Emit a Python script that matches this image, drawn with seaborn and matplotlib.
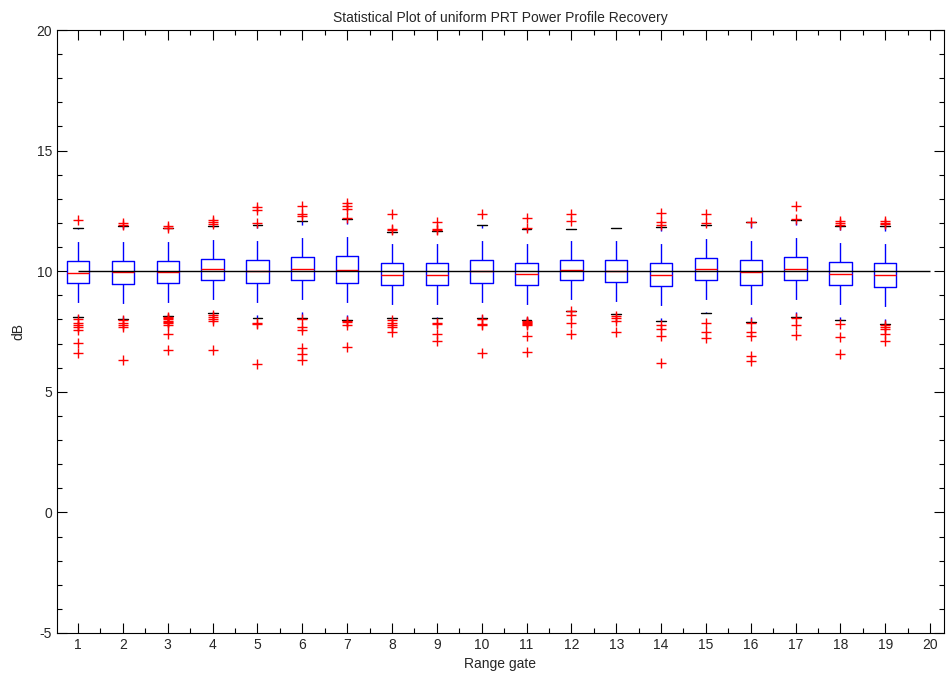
import numpy as np
import pandas as pd
import matplotlib
matplotlib.use("Agg")
import matplotlib.pyplot as plt
import seaborn as sns
from matplotlib.ticker import MultipleLocator

# ---------------- data ----------------
gates = list(range(1, 20))
whisker_low = [8.12, 8.01, 8.16, 8.27, 8.08, 8.08, 7.97, 8.08, 8.08, 8.08,
               7.97, 8.36, 8.22, 7.93, 8.26, 7.91, 8.11, 7.97, 7.83]
q1 = [9.52, 9.46, 9.52, 9.63, 9.53, 9.63, 9.52, 9.43, 9.43, 9.52,
      9.43, 9.63, 9.57, 9.38, 9.63, 9.43, 9.63, 9.43, 9.35]
median = [9.94, 9.96, 9.97, 10.08, 10.00, 10.08, 10.04, 9.85, 9.85, 10.00,
          9.90, 10.04, 9.99, 9.85, 10.08, 9.96, 10.08, 9.90, 9.85]
q3 = [10.43, 10.43, 10.43, 10.51, 10.46, 10.59, 10.61, 10.32, 10.32, 10.46,
      10.36, 10.46, 10.46, 10.36, 10.54, 10.46, 10.59, 10.40, 10.36]
whisker_high = [11.81, 11.88, 11.78, 11.86, 11.92, 12.09, 12.15, 11.64, 11.67, 11.91,
                11.77, 11.75, 11.81, 11.84, 11.92, 12.02, 12.11, 11.86, 11.86]
outliers_high = [
    [12.13],
    [11.99, 11.92],
    [11.88, 11.80],
    [12.11, 12.02, 11.95],
    [12.65, 12.52, 11.98],
    [12.71, 12.36, 12.29],
    [12.83, 12.70, 12.57, 12.20],
    [12.36, 11.74, 11.70],
    [12.02, 11.77, 11.72],
    [12.39],
    [12.22, 11.81],
    [12.36, 12.09],
    [],
    [12.43, 12.02, 11.92],
    [12.39, 11.98],
    [12.04],
    [12.71, 12.15],
    [12.09, 12.00, 11.92],
    [12.09, 12.00, 11.95],
]
outliers_low = [
    [8.01, 7.87, 7.78, 7.67, 7.56, 7.04, 6.59],
    [7.97, 7.87, 7.78, 7.67, 6.31],
    [8.11, 8.06, 8.00, 7.95, 7.90, 7.85, 7.78, 7.39, 6.73],
    [8.19, 8.11, 8.02, 7.94, 6.74],
    [7.87, 7.82, 6.17],
    [8.02, 7.67, 7.58, 6.82, 6.55, 6.30],
    [7.93, 7.88, 7.75, 6.86],
    [7.97, 7.87, 7.78, 7.67, 7.50],
    [7.87, 7.80, 7.41, 7.11],
    [8.00, 7.83, 7.78, 6.59],
    [7.94, 7.90, 7.85, 7.80, 7.75, 7.33, 6.64],
    [8.33, 8.19, 7.87, 7.39],
    [8.15, 8.05, 7.94, 7.50],
    [7.76, 7.60, 7.32, 6.21],
    [7.87, 7.46, 7.25],
    [7.87, 7.50, 7.32, 6.49, 6.29],
    [8.05, 7.76, 7.36],
    [7.80, 7.29, 6.56],
    [7.78, 7.69, 7.60, 7.39, 7.09],
]
reference_db = 10.0
reference_span = [1, 20]
x_ticks = list(range(1, 21))
y_ticks = [-5, 0, 5, 10, 15, 20]

title = "Statistical Plot of uniform PRT Power Profile Recovery"
xlabel = "Range gate"
ylabel = "dB"

# ---------------- build tables ----------------
# a 7-point sample per gate whose quartiles / extremes equal the read values
box_rows = []
for g, lo, a, m, b, hi in zip(gates, whisker_low, q1, median, q3, whisker_high):
    for v in (lo, a, a, m, b, b, hi):
        box_rows.append({"gate": g, "dB": v})
box_df = pd.DataFrame(box_rows)

out_rows = []
for g, hs, ls in zip(gates, outliers_high, outliers_low):
    for v in list(hs) + list(ls):
        out_rows.append({"gate": g, "dB": v})
out_df = pd.DataFrame(out_rows)

# ---------------- style ----------------
sns.set_style("white")
plt.rcParams["font.family"] = ["Liberation Sans Narrow", "Liberation Sans", "DejaVu Sans"]
plt.rcParams["font.size"] = 10

fig = plt.figure(figsize=(9.48, 6.81), dpi=100)
ax = fig.add_axes([57 / 948, 1 - 633 / 681, (944 - 57) / 948, (633 - 30) / 681])

sns.boxplot(
    data=box_df, x="gate", y="dB", native_scale=True, width=0.5,
    whis=(0, 100), showfliers=False, fill=False, ax=ax,
    linewidth=1.0,
    boxprops=dict(color="blue", linewidth=1.0),
    medianprops=dict(color="red", linewidth=1.0),
    whiskerprops=dict(color="blue", linewidth=1.0, linestyle=(0, (14, 9))),
    capprops=dict(color="black", linewidth=1.0),
    capwidths=0.22,
)

sns.scatterplot(
    data=out_df, x="gate", y="dB", marker="+", color="red",
    s=55, linewidth=1.0, ax=ax, legend=False, zorder=3,
)

ax.hlines(reference_db, reference_span[0], reference_span[1],
          color="black", linewidth=1.0, zorder=4)

ax.set_xlim(0.53, 20.31)
ax.set_ylim(-5, 20)
ax.set_xticks(x_ticks)
ax.set_xticklabels([str(t) for t in x_ticks])
ax.set_yticks(y_ticks)
ax.set_yticklabels([str(t) for t in y_ticks])
ax.xaxis.set_minor_locator(MultipleLocator(0.5))
ax.yaxis.set_minor_locator(MultipleLocator(1))
ax.tick_params(which="both", direction="in", top=True, right=True,
               bottom=True, left=True, color="black", labelsize=10)
ax.tick_params(which="major", length=7, width=0.8)
ax.tick_params(which="minor", length=3.5, width=0.8)
for sp in ax.spines.values():
    sp.set_color("black")
    sp.set_linewidth(0.8)

ax.set_title(title, fontsize=10, pad=6)
ax.set_xlabel(xlabel, fontsize=10, labelpad=4)
ax.set_ylabel(ylabel, fontsize=10, labelpad=8)

fig.savefig("out.png", dpi=100)
